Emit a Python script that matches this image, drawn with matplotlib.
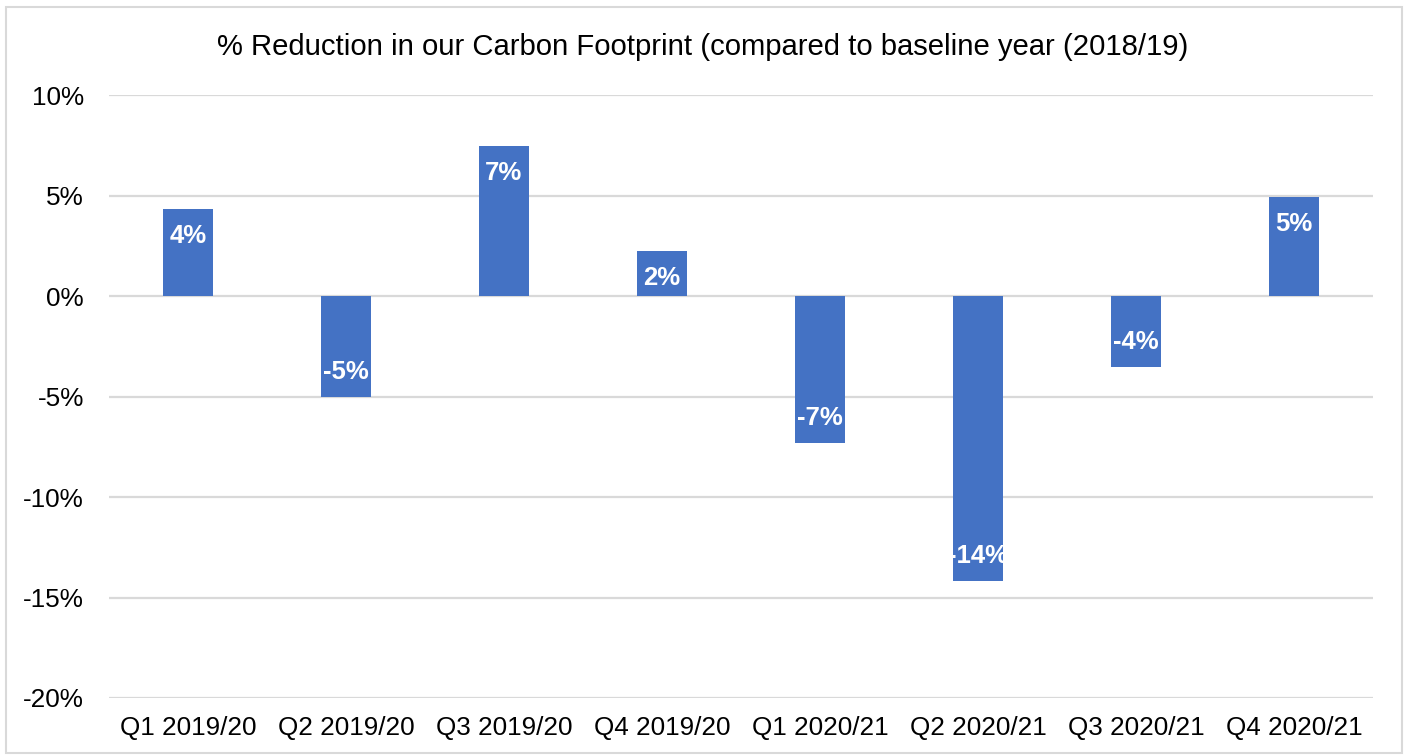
import matplotlib
matplotlib.use("Agg")
import matplotlib.pyplot as plt
from matplotlib.patches import Rectangle
from matplotlib.ticker import FuncFormatter

plt.rcParams['font.family'] = ['Liberation Sans', 'DejaVu Sans']

quarters = ["Q1 2019/20", "Q2 2019/20", "Q3 2019/20", "Q4 2019/20",
            "Q1 2020/21", "Q2 2020/21", "Q3 2020/21", "Q4 2020/21"]
reduction_pct = [4.33, -5.02, 7.48, 2.24, -7.31, -14.18, -3.55, 4.91]
y_ticks = [10, 5, 0, -5, -10, -15, -20]
title = "% Reduction in our Carbon Footprint (compared to baseline year (2018/19)"

bar_color = "#4472C4"
grid_color = "#D9D9D9"

fig = plt.figure(figsize=(14.06, 7.55), dpi=100)
ax = fig.add_axes([0.0775, 0.0755, 0.899, 0.7985])

x = range(len(quarters))
bars = ax.bar(x, reduction_pct, width=0.316, color=bar_color, zorder=3)

ax.set_ylim(-20, 10)
ax.set_xlim(-0.5, len(quarters) - 0.5)
ax.set_yticks(y_ticks)
ax.yaxis.set_major_formatter(FuncFormatter(lambda v, _: f"{v:.0f}%"))
ax.set_xticks(list(x))
ax.set_xticklabels(quarters)
ax.tick_params(axis='both', length=0, labelsize=18.8, colors='black')
ax.tick_params(axis='y', pad=18)
ax.tick_params(axis='x', pad=13)
ax.grid(axis='y', color=grid_color, linewidth=1.6, zorder=0)
for s in ax.spines.values():
    s.set_visible(False)

# value labels inside the bar ends
for rect, v in zip(bars, reduction_pct):
    cx = rect.get_x() + rect.get_width() / 2
    offset = -27 if v >= 0 else 25
    ax.annotate(f"{v:.0f}%", xy=(cx, v), xytext=(0, offset),
                textcoords="offset pixels", ha='center', va='center',
                color='white', fontsize=18.5, fontweight='bold', zorder=4)

fig.text(0.5, 0.938, title, ha='center', va='center', fontsize=21.1, color='black')

# chart frame
fig.patches.append(Rectangle((0.0043, 0.003), 0.9929, 0.988,
                             transform=fig.transFigure, fill=False,
                             edgecolor=grid_color, linewidth=1.5))

fig.savefig("out.png", dpi=100, facecolor='white')
